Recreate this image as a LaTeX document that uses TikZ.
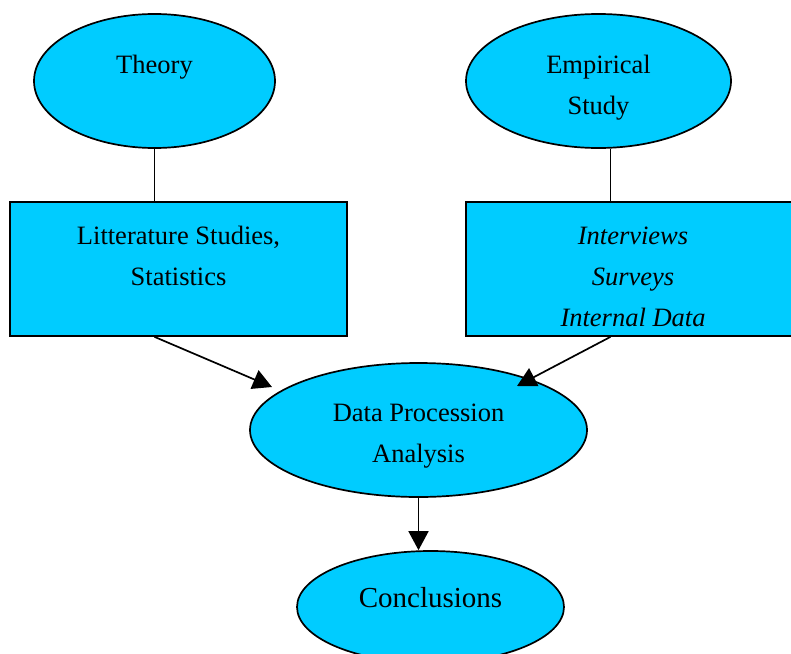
\documentclass[tikz,border=0pt]{standalone}
\usepackage{fontspec}
\setmainfont{Liberation Serif}
\usepackage{tikz}
\usetikzlibrary{shapes.geometric,arrows.meta,calc}
\definecolor{skyfill}{RGB}{0,204,255}
\newcommand{\padtop}[1]{\rule{0pt}{#1}}
\newcommand{\padbot}[1]{\rule[-#1]{0pt}{#1}}

\begin{document}
\begin{tikzpicture}[x=1pt, y=-1pt, >={Triangle[length=19pt, width=20pt]},
    every node/.style={font=\fontsize{26.5}{41}\selectfont, align=center},
    oval/.style={ellipse, draw, fill=skyfill, line width=1.7pt, inner sep=2pt, minimum height=134pt},
    box/.style={rectangle, draw, fill=skyfill, line width=1.7pt, inner sep=4pt, minimum width=337pt, minimum height=134pt},
    link/.style={line width=1.7pt}]
    \useasboundingbox (0,0) rectangle (791,653);

    % top row: the two sources
    \node[oval, minimum width=241pt] (Th) at (154.5,81) {Theory\padbot{33pt}};
    \node[oval, minimum width=265pt] (Em) at (598.5,81) {\padtop{32pt}Empirical\\Study};

    % methods under each source
    \node[box] (Lit) at (178.5,269) {Litterature Studies,\\Statistics\padbot{27pt}};
    \node[box, minimum width=334pt, font=\fontsize{26.5}{41}\selectfont\itshape] (Emp) at (633,269) {\padtop{34pt}Interviews\\Surveys\\Internal Data};

    % processing and result
    \node[oval, minimum width=337pt] (Da) at (418.5,430) {\padtop{30pt}Data Procession\\Analysis};
    \node[oval, minimum width=267pt, minimum height=112pt, font=\fontsize{29}{35}\selectfont] (Co) at (430.5,607) {Conclusions\padbot{20pt}};

    % connectors
    \draw[link] (Th.south) -- (Th.south |- Lit.north);
    \draw[link] ([xshift=12pt]Em.south) -- ([xshift=12pt]Em.south |- Emp.north);
    \draw[link, ->] (Th.south |- Lit.south) -- ($(Da.center)+(-146.5,-43)$);
    \draw[link, ->] ([xshift=12pt]Em.south |- Emp.south) -- ($(Da.center)+(98.5,-44)$);
    \draw[link, ->] (Da.south) -- (Da.south |- Co.north);
\end{tikzpicture}
\end{document}
